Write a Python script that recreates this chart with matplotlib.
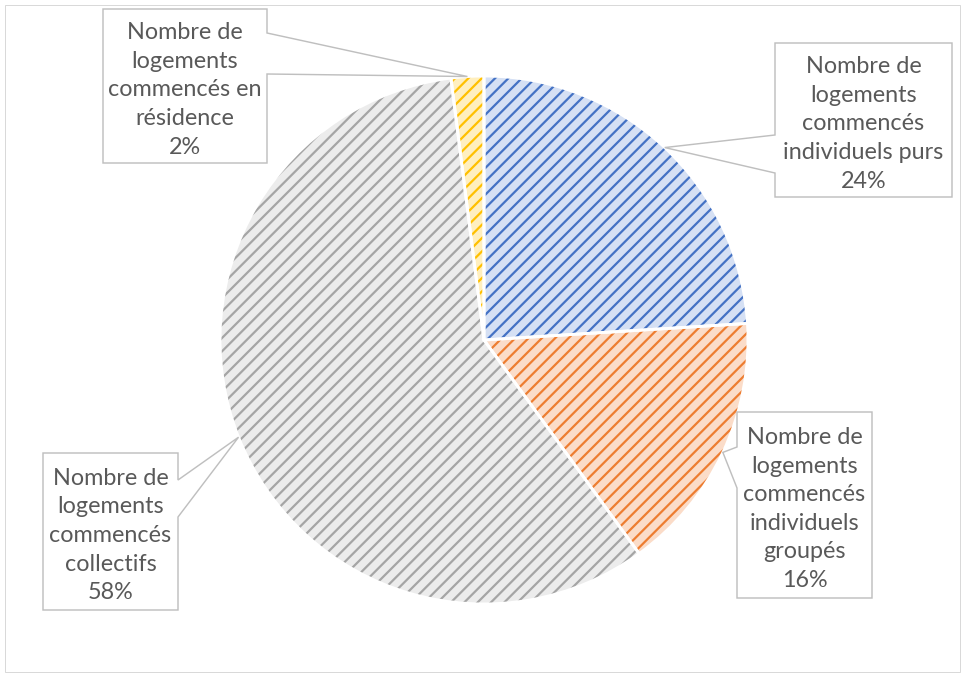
import matplotlib
matplotlib.use("Agg")
import matplotlib.pyplot as plt
from matplotlib.patches import Polygon, Rectangle, Wedge
import numpy as np

plt.rcParams['font.family'] = ['Lato', 'DejaVu Sans']
plt.rcParams['hatch.linewidth'] = 2.0

categories = [
    "Nombre de\nlogements\ncommencés\nindividuels purs",
    "Nombre de\nlogements\ncommencés\nindividuels\ngroupés",
    "Nombre de\nlogements\ncommencés\ncollectifs",
    "Nombre de\nlogements\ncommencés en\nrésidence",
]
values = [24, 16, 58, 2]
hatch_colors = ["#4472C4", "#ED7D31", "#A5A5A5", "#FFC000"]
face_colors = ["#d5e0f4", "#fbdcc8", "#ececec", "#ffefbf"]

W, H = 964, 677
DPI = 80
fig = plt.figure(figsize=(W / DPI, H / DPI), dpi=DPI)
ax = fig.add_axes([0, 0, 1, 1])

def P(x, y):
    return (x, H - y)

cx, cy = P(484, 340)
R = 264
wedges, _ = ax.pie(values, startangle=90, counterclock=False,
                   center=(cx, cy), radius=R, colors=face_colors,
                   wedgeprops=dict(linewidth=0))
for w, hc in zip(wedges, hatch_colors):
    w.set_hatch('//')
    w.set_edgecolor(hc)
    w.set_linewidth(0)
    ow = Wedge((cx, cy), R, w.theta1, w.theta2, facecolor='none',
               edgecolor='white', linewidth=2.6, zorder=3)
    ax.add_patch(ow)

ax.set_xlim(0, W)
ax.set_ylim(0, H)
ax.set_aspect('equal')
ax.axis('off')

# callout boxes: (x0, y0, x1, y1, side, a, b) in pixel coords (y down)
boxes = [
    (775, 43, 952, 197, 'left', 135, 173),
    (737, 412, 872, 598, 'left', 447, 488),
    (43, 453, 178, 610, 'right', 480, 517),
    (103, 9, 267, 163, 'right', 33, 74),
]

total = sum(values)
for w, cat, v, (x0, y0, x1, y1, side, a, b) in zip(wedges, categories, values, boxes):
    mid = np.deg2rad((w.theta1 + w.theta2) / 2)
    tip = (cx + R * np.cos(mid), cy + R * np.sin(mid))
    if side == 'left':
        pts = [P(x0, y0), P(x1, y0), P(x1, y1), P(x0, y1), P(x0, b), tip, P(x0, a)]
    else:
        pts = [P(x0, y0), P(x1, y0), P(x1, a), tip, P(x1, b), P(x1, y1), P(x0, y1)]
    poly = Polygon(pts, closed=True, facecolor='white', edgecolor='#bfbfbf',
                   linewidth=1.3, zorder=5, joinstyle='miter')
    ax.add_patch(poly)
    label = f"{cat}\n{v / total * 100:.0f}%"
    tx, ty = P((x0 + x1) / 2, (y0 + y1) / 2 + 4)
    ax.text(tx, ty, label, ha='center', va='center', fontsize=21,
            color='#595959', linespacing=1.45, zorder=6)

fig.patches.append(Rectangle((5 / W, 5 / H), (960 - 5) / W, (672 - 5) / H,
                             transform=fig.transFigure, fill=False,
                             edgecolor='#d9d9d9', linewidth=0.9))

fig.savefig("out.png", dpi=DPI, facecolor='white')
